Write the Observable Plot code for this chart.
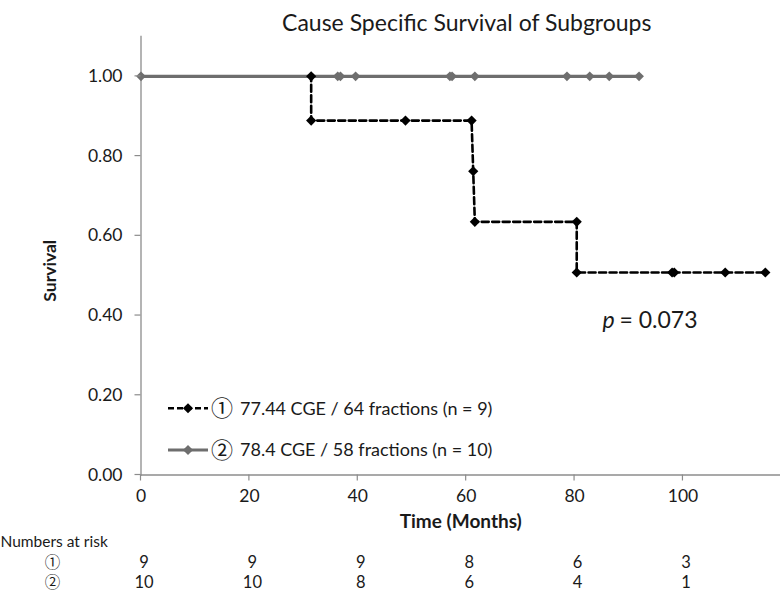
<!DOCTYPE html>
<html><head><meta charset="utf-8">
<script src="https://cdn.jsdelivr.net/npm/d3@7"></script>
<script src="https://cdn.jsdelivr.net/npm/@observablehq/plot@0.6"></script>
<style>
body{margin:0;background:#fff;}
#chart{width:780px;height:595px;overflow:hidden;}
</style>
</head><body><div id="chart"></div>
<script>
// ---- data ----
const title = "Cause Specific Survival of Subgroups";
const xLabel = "Time (Months)";
const yLabel = "Survival";
const xTicks = [0, 20, 40, 60, 80, 100];
const yTicks = [0, 0.2, 0.4, 0.6, 0.8, 1.0];
const xDomain = [0, 118];
const yDomain = [0, 1.1];
// group 1: 77.44 CGE / 64 fractions (black dashed)
const g1Time = [0, 31.4, 31.4, 48.8, 61.0, 61.3, 61.6, 80.4, 80.4, 98.0, 98.4, 107.8, 115.2];
const g1Surv = [1.0, 1.0, 0.889, 0.889, 0.889, 0.762, 0.635, 0.635, 0.508, 0.508, 0.508, 0.508, 0.508];
// group 2: 78.4 CGE / 58 fractions (grey solid)
const g2Time = [0, 36.3, 36.8, 39.6, 57.0, 57.4, 61.6, 78.6, 82.8, 86.4, 91.9];
const g2Surv = [1.0, 1.0, 1.0, 1.0, 1.0, 1.0, 1.0, 1.0, 1.0, 1.0, 1.0];
const seriesNames = ["77.44 CGE / 64 fractions (n = 9)", "78.4 CGE / 58 fractions (n = 10)"];
const seriesSymbols = ["\u2460", "\u2461"];
const riskLabel = "Numbers at risk";
const riskTimes = [0, 20, 40, 60, 80, 100];
const risk1 = [9, 9, 9, 8, 6, 3];
const risk2 = [10, 10, 8, 6, 4, 1];
const pLetter = "p";
const pValue = "= 0.073";

// ---- build ----
const g1 = g1Time.map((t, i) => ({t, s: g1Surv[i]}));
const g2 = g2Time.map((t, i) => ({t, s: g2Surv[i]}));
const riskRows = [risk1, risk2].map((r, row) => riskTimes.map((t, i) => ({t, n: String(r[i]), row})));
const fmtY = d3.format(".2f");

const FONT = "Lato, 'Noto Sans', sans-serif";
const CJK = "'Noto Sans CJK JP', 'DejaVu Sans', sans-serif";
const TXT = "#1a1a1a";
const GREY = "#6e6e6e";
const AX = "#8c8c8c";
const rowDy = [93, 113];

const svg = Plot.plot({
  width: 780, height: 595,
  marginLeft: 140.5, marginRight: 0, marginTop: 36, marginBottom: 120.5,
  style: {fontFamily: FONT, color: TXT, background: "#fff", overflow: "visible"},
  x: {domain: xDomain, axis: null},
  y: {domain: yDomain, axis: null},
  marks: [
    Plot.frame({anchor: "left", stroke: AX, strokeWidth: 1.3}),
    Plot.frame({anchor: "bottom", stroke: AX, strokeWidth: 1.3}),
    // y tick labels
    Plot.text(yTicks, {y: d => d, text: d => fmtY(d), frameAnchor: "left", textAnchor: "end", dx: -18.5, fontSize: 17.5, fill: TXT}),
    // x tick labels
    Plot.text(xTicks, {x: d => d, text: d => String(d), frameAnchor: "bottom", dy: 26.5, fontSize: 17.5, fill: TXT}),
    // curves
    Plot.line(g1, {x: "t", y: "s", stroke: "#000", strokeWidth: 2.6, strokeDasharray: "7,3.5"}),
    Plot.line(g2, {x: "t", y: "s", stroke: GREY, strokeWidth: 3.4}),
    Plot.dot(g2, {x: "t", y: "s", symbol: "diamond2", r: 4.4, fill: GREY, stroke: null}),
    Plot.dot(g1.slice(1), {x: "t", y: "s", symbol: "diamond2", r: 4.6, fill: "#000", stroke: null}),
    // title and axis labels
    Plot.text([title], {text: d => d, frameAnchor: "top", dx: 6, dy: -22, fontSize: 23, fill: TXT}),
    Plot.text([yLabel], {text: d => d, frameAnchor: "left", textAnchor: "middle", dx: -90.5, dy: 15, rotate: -90, fontSize: 17.5, fontWeight: "bold", fill: TXT}),
    Plot.text([xLabel], {text: d => d, frameAnchor: "bottom", dy: 53, fontSize: 19, fontWeight: "bold", fill: TXT}),
    // p value
    Plot.text([pLetter], {text: d => d, frameAnchor: "right", dx: -178, dy: 65, textAnchor: "start", fontSize: 23, fontStyle: "italic", fill: TXT}),
    Plot.text([pValue], {text: d => d, frameAnchor: "right", dx: -161, dy: 65, textAnchor: "start", fontSize: 23, fill: TXT}),
    // numbers at risk
    Plot.text([riskLabel], {text: d => d, frameAnchor: "bottom-left", dx: -140.5, dy: 71.5, textAnchor: "start", fontSize: 15.5, fill: TXT}),
    ...riskRows.map((rows, k) => Plot.text(rows, {x: "t", text: "n", frameAnchor: "bottom", dx: 3, dy: rowDy[k], fontSize: 16.5, fill: TXT})),
    ...seriesSymbols.map((s, k) => Plot.text([s], {text: d => d, frameAnchor: "bottom-left", textAnchor: "middle", dx: -88.5, dy: rowDy[k], fontSize: 15.5, fontFamily: CJK, fill: TXT}))
  ]
});

document.getElementById("chart").appendChild(svg);

// short tick marks (outside the frame) on both axes, through the scales
const xs = svg.scale("x"), ys = svg.scale("y");
const tg = d3.select(svg).append("g").attr("stroke", AX).attr("stroke-width", 1.2);
const x0 = xs.apply(xDomain[0]), yb = ys.apply(yDomain[0]);
yTicks.forEach(v => tg.append("line").attr("x1", x0 - 6).attr("x2", x0).attr("y1", ys.apply(v)).attr("y2", ys.apply(v)));
xTicks.forEach(v => tg.append("line").attr("x1", xs.apply(v)).attr("x2", xs.apply(v)).attr("y1", yb).attr("y2", yb + 6));

// legend (drawn inside the plot frame)
const legY = [408.3, 450];
const leg = d3.select(svg).append("g").attr("font-family", FONT);
seriesNames.forEach((name, i) => {
  const y = legY[i];
  const g = leg.append("g");
  g.append("line").attr("x1", 168).attr("x2", 208).attr("y1", y).attr("y2", y)
    .attr("stroke", i === 0 ? "#000" : GREY).attr("stroke-width", i === 0 ? 2.6 : 3)
    .attr("stroke-dasharray", i === 0 ? "6,3" : null);
  const r = 4.6;
  g.append("path").attr("d", `M188,${y - r * 1.1}L${188 + r * 1.1},${y}L188,${y + r * 1.1}L${188 - r * 1.1},${y}Z`)
    .attr("fill", i === 0 ? "#000" : GREY);
  g.append("text").attr("x", 222).attr("y", y).attr("text-anchor", "middle").attr("dy", "0.35em")
    .attr("font-family", CJK).attr("font-size", 22).attr("fill", TXT).text(seriesSymbols[i]);
  g.append("text").attr("x", 240).attr("y", y).attr("dy", "0.35em").attr("text-anchor", "start")
    .attr("font-size", 18).attr("fill", TXT).text(name);
});
</script>
</body></html>
